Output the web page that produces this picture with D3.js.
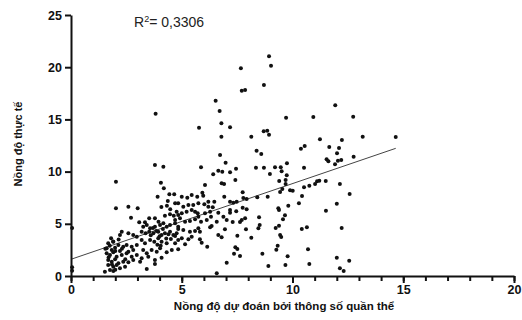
<!DOCTYPE html>
<html>
<head>
<meta charset="utf-8">
<script src="https://cdn.jsdelivr.net/npm/d3@7"></script>
<style>
  body { margin: 0; background: #fff; }
  svg { display: block; }
</style>
</head>
<body>
<div id="chart"></div>
<script>
const clusterLow = [
  [3.79,10.63],[4.17,10.47],[2.03,9.03],[4.06,8.94],[4.19,8.40],[3.91,7.60],[4.44,7.83],[4.66,7.83],
  [4.37,7.18],[4.70,6.96],[2.03,6.48],[2.59,6.64],[3.01,6.48],[4.08,6.61],[4.33,6.73],[4.48,6.39],
  [2.71,5.58],[3.53,5.53],[3.79,5.53],[4.24,5.78],[4.47,5.91],[4.64,5.78],[4.84,5.84],[3.08,5.14],
  [3.34,5.14],[3.26,4.72],[3.42,4.89],[3.57,4.57],[3.79,4.72],[4.02,4.89],[4.17,5.05],[4.32,4.72],
  [4.47,4.89],[4.70,5.05],[4.84,4.72],[3.19,4.24],[3.37,4.09],[3.53,4.24],[3.72,4.09],[3.94,4.24],
  [4.09,3.93],[4.24,4.09],[4.47,4.24],[4.62,3.93],[4.77,4.09],[2.29,4.24],[2.59,4.09],[2.81,3.93],
  [2.97,3.76],[1.81,3.61],[2.21,3.93],[1.68,3.13],[1.91,3.29],[2.14,2.97],[2.36,2.81],[2.51,2.97],
  [2.74,2.81],[2.97,2.97],[3.19,3.45],[3.34,3.13],[3.57,3.45],[3.76,3.29],[3.94,3.61],[4.09,3.29],
  [4.32,3.13],[4.51,3.54],[4.70,3.13],[4.84,3.45],[1.61,2.65],[1.84,2.49],[1.99,2.71],[2.21,2.39],
  [2.59,2.33],[2.81,2.49],[3.26,2.49],[3.42,2.17],[3.64,2.49],[3.87,2.33],[4.02,2.65],[4.32,2.27],
  [4.55,2.49],[1.61,2.17],[1.76,2.01],[1.91,2.27],[2.06,1.85],[2.29,2.01],[2.51,2.17],[2.74,1.85],
  [2.97,2.01],[3.19,1.70],[3.49,1.85],[3.79,1.53],[4.09,1.75],[1.68,1.53],[1.84,1.37],[1.99,1.60],
  [2.14,1.22],[2.36,1.37],[2.59,1.31],[2.81,1.53],[1.68,1.05],[1.91,0.89],[2.06,1.05],[2.21,0.74],
  [2.44,0.89],[1.53,0.41],[1.76,0.57],[1.91,0.48],[3.42,0.67],[3.79,1.15],[3.12,1.37],
  [1.70,1.80],[1.90,3.30],[2.00,0.60],[1.75,2.90],[2.15,3.50],[2.30,2.60],[1.55,2.60],[2.45,1.60],
  [2.00,2.40],[1.85,1.10],[3.90,3.00],[4.00,3.80],[4.15,4.50],[3.85,4.30],[4.30,3.60],[4.05,2.90],
  [3.60,3.90],[4.40,4.00],[3.95,5.20],[3.70,4.60]
];

const clusterMid = [
  [6.73,11.59],[5.87,10.41],[6.98,10.85],[6.42,9.74],[6.65,10.09],[6.83,9.99],[6.05,8.72],[6.80,8.88],
  [6.91,8.81],[5.00,7.60],[5.25,7.50],[5.45,7.76],[5.70,7.60],[5.93,7.98],[5.97,7.69],[6.20,7.12],
  [6.47,7.12],[6.92,7.60],[4.84,6.96],[5.07,6.64],[5.30,6.80],[5.52,6.80],[5.75,6.96],[6.02,6.87],
  [6.20,6.64],[6.40,6.58],[4.77,6.16],[5.00,6.01],[5.22,6.16],[5.45,6.32],[5.60,6.16],[5.72,6.01],
  [6.05,6.01],[6.28,6.16],[6.65,6.06],[6.88,5.68],[4.70,5.36],[4.92,5.53],[5.15,5.20],[5.37,5.27],
  [5.60,5.43],[5.75,5.68],[5.87,5.20],[6.13,5.36],[6.32,5.68],[6.58,5.20],[7.03,5.36],[4.84,4.50],
  [5.07,4.41],[5.37,4.24],[5.60,4.31],[5.75,4.57],[5.82,4.24],[6.28,4.66],[6.35,4.79],[6.95,4.47],
  [4.70,3.83],[5.00,3.61],[5.30,3.52],[5.45,3.76],[5.82,3.52],[6.65,3.93],[6.80,3.71],[4.84,2.56],
  [5.15,3.04],[5.90,3.19],[6.15,2.81],[7.03,1.27],[6.58,0.26],
  [7.18,9.93],[7.45,10.28],[7.42,9.20],[7.75,8.02],[7.78,7.47],[7.93,7.38],[7.18,7.12],[7.33,7.02],
  [7.48,7.12],[7.18,6.32],[7.18,6.06],[7.46,6.20],[7.75,6.54],[7.93,6.39],[7.30,5.17],[7.63,5.17],
  [7.71,5.36],[7.86,5.53],[7.90,4.47],[7.51,3.86],[8.14,3.67],[7.42,2.75],[7.51,2.59],[7.36,2.14],
  [7.63,1.92]
];

const spreadHigh = [
  [11.93,16.35],[9.71,15.16],[10.94,15.23],[12.74,15.26],[8.70,13.86],[8.86,13.92],[8.94,13.53],
  [13.17,13.34],[14.66,13.31],[11.24,13.09],[12.23,13.03],[8.38,12.00],[8.59,11.69],[10.55,12.45],
  [10.38,12.19],[11.66,12.36],[12.10,12.26],[12.01,11.75],[12.76,11.43],[11.54,11.18],[11.62,10.99],
  [12.05,11.04],[12.20,11.11],[11.92,10.70],[9.75,10.80],[8.35,10.37],[8.71,10.37],[9.21,10.41],
  [9.47,10.41],[9.51,10.03],[8.98,9.77],[10.52,10.37],[9.74,9.65],[9.69,9.20],[9.40,9.10],[9.69,8.81],
  [9.54,8.33],[9.44,8.05],[11.21,9.13],[11.11,9.07],[11.50,9.10],[11.02,8.81],[10.76,8.65],[10.52,8.50],
  [12.14,8.81],[9.89,8.21],[10.01,8.17],[8.41,7.54],[8.88,7.60],[10.43,7.66],[12.58,7.85],[10.29,6.96],
  [9.81,6.73],[12.00,6.93],[9.36,6.48],[9.39,6.32],[11.51,6.25],[9.66,5.81],[9.57,5.43],[8.49,5.62],
  [8.52,4.89],[8.46,4.57],[9.39,4.82],[9.24,4.60],[10.42,4.50],[10.65,4.66],[12.22,4.60],[9.44,3.93],
  [9.49,3.74],[9.33,2.90],[9.27,2.52],[10.70,2.56],[8.64,2.14],[9.78,1.89],[12.00,1.75],[12.56,1.47],
  [8.91,0.96],[9.68,1.05],[10.76,1.15],[12.14,0.74],[12.31,0.48]
];

const outliers = [
  [8.94,21.04],[7.67,19.89],[9.03,20.14],[8.71,18.30],[7.71,17.75],[7.86,17.82],[7.18,14.24],
  [8.14,13.34],[3.82,15.55],[6.53,16.79],[6.71,15.80],[6.79,14.63],[5.78,14.20],[6.79,13.34],
  [0.05,0.85],[0.05,0.50],[0.05,4.60]
];

const xTicks = [0, 5, 10, 15, 20];
const yTicks = [0, 5, 10, 15, 20, 25];
const fitIntercept = 1.6;
const fitSlope = 0.725;
const fitRange = [0, 14.66];
const rSquared = '0,3306';

const width = 522, height = 320;

const xScale = d3.scaleLinear().domain([0, 20]).range([71, 514]);
const yScale = d3.scaleLinear().domain([0, 25]).range([276, 15]);

const svg = d3.select('#chart')
  .append('svg')
    .attr('width', width)
    .attr('height', height);

const points = clusterLow.concat(clusterMid, spreadHigh, outliers);

// regression line
svg.append('line')
  .attr('x1', xScale(fitRange[0]))
  .attr('y1', yScale(fitIntercept + fitSlope * fitRange[0]))
  .attr('x2', xScale(fitRange[1]))
  .attr('y2', yScale(fitIntercept + fitSlope * fitRange[1]))
  .attr('stroke', '#444')
  .attr('stroke-width', 1);

svg.append('g')
  .selectAll('circle')
  .data(points)
  .join('circle')
    .attr('cx', (d) => xScale(d[0]))
    .attr('cy', (d) => yScale(d[1]))
    .attr('r', 2)
    .attr('fill', '#111');

// x axis: minor ticks every unit, then the labelled ones
svg.append('g')
  .attr('transform', `translate(0, ${yScale(0)})`)
  .call(d3.axisBottom(xScale).tickValues(d3.range(0, 21)).tickSize(5).tickFormat(''))
  .call((g) => g.select('.domain').remove());

const xAxis = svg.append('g')
  .attr('transform', `translate(0, ${yScale(0)})`)
  .call(d3.axisBottom(xScale).tickValues(xTicks).tickSize(7).tickPadding(2).tickSizeOuter(0));

const yAxis = svg.append('g')
  .attr('transform', `translate(${xScale(0)}, 0)`)
  .call(d3.axisLeft(yScale).tickValues(yTicks).tickSize(6).tickPadding(3).tickSizeOuter(0));

svg.selectAll('.domain, .tick line')
  .attr('stroke', '#111')
  .attr('stroke-width', 2);

[xAxis, yAxis].forEach((g) => g.selectAll('text')
  .attr('fill', '#111')
  .style('font-family', '"Liberation Sans", Arial, sans-serif')
  .style('font-weight', 'bold')
  .style('font-size', '12.5px'));

svg.append('text')
  .attr('x', 284)
  .attr('y', 310)
  .attr('text-anchor', 'middle')
  .attr('fill', '#111')
  .style('font-family', '"Liberation Sans", Arial, sans-serif')
  .style('font-weight', 'bold')
  .style('font-size', '11.5px')
  .text('Nồng độ dự đoán bởi thông số quần thể');

svg.append('text')
  .attr('transform', 'translate(22, 144) rotate(-90)')
  .attr('text-anchor', 'middle')
  .attr('fill', '#111')
  .style('font-family', '"Liberation Sans", Arial, sans-serif')
  .style('font-weight', 'bold')
  .style('font-size', '11px')
  .text('Nồng độ thực tế');

const r2 = svg.append('text')
  .attr('x', 134)
  .attr('y', 26.5)
  .attr('fill', '#222')
  .style('font-family', '"Liberation Sans", Arial, sans-serif')
  .style('font-size', '14px');
r2.append('tspan').text('R');
r2.append('tspan').attr('dy', -5).style('font-size', '9px').text('2');
r2.append('tspan').attr('dy', 5).text(`= ${rSquared}`);
</script>
</body>
</html>
